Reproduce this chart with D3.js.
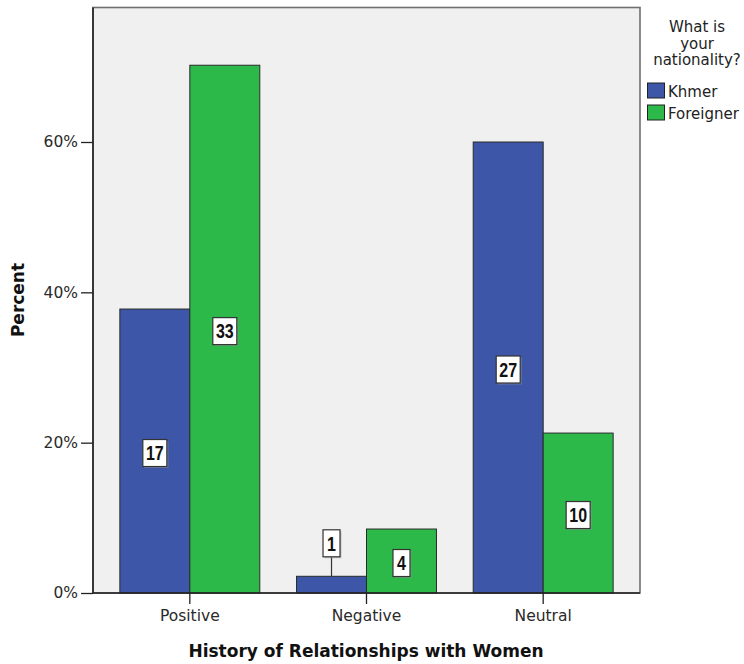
<!DOCTYPE html>
<html>
<head>
<meta charset="utf-8">
<script src="https://cdn.jsdelivr.net/npm/d3@7"></script>
<style>
  body { margin: 0; background: #fff; }
  svg { display: block; }
</style>
</head>
<body>
<svg id="chart" width="744" height="664"></svg>
<script>
const categories = ["Positive", "Negative", "Neutral"];
const seriesNames = ["Khmer", "Foreigner"];
const khmerCounts = [17, 1, 27];
const foreignerCounts = [33, 4, 10];
const yTicks = [0, 0.2, 0.4, 0.6];
const xTitle = "History of Relationships with Women";
const yTitle = "Percent";
const legendTitle = ["What is", "your", "nationality?"];
const colors = ["#3e56a8", "#2db84a"];

const counts = [khmerCounts, foreignerCounts];
const totals = counts.map(c => d3.sum(c));
const data = [];
categories.forEach((cat, i) => {
  seriesNames.forEach((s, j) => {
    data.push({cat, series: s, si: j, count: counts[j][i], pct: counts[j][i] / totals[j]});
  });
});

const svg = d3.select("#chart");
const L = 93, R = 640, T = 7.5, B = 593;

const x0 = d3.scaleBand().domain(categories).range([L, R]).paddingInner(0.208).paddingOuter(0.152);
const x1 = d3.scaleBand().domain(seriesNames).range([0, x0.bandwidth()]);
const y = d3.scaleLinear().domain([0, (B - T) / (B - 142) * 0.6]).range([B, T]);

// plot background
svg.append("rect").attr("x", L).attr("y", T).attr("width", R - L).attr("height", B - T)
  .attr("fill", "#f0f0f0").attr("stroke", "#6f6f6f").attr("stroke-width", 1.6);

// bars
svg.append("g").selectAll("rect").data(data).join("rect")
  .attr("x", d => x0(d.cat) + x1(d.series))
  .attr("y", d => y(d.pct))
  .attr("width", x1.bandwidth())
  .attr("height", d => y(0) - y(d.pct))
  .attr("fill", d => colors[d.si])
  .attr("stroke", "#2a2a2a").attr("stroke-width", 1);

// axes
const yAxis = svg.append("g").attr("transform", `translate(${L},0)`)
  .call(d3.axisLeft(y).tickValues(yTicks).tickFormat(d3.format(".0%")).tickSize(12).tickPadding(3));
const xAxis = svg.append("g").attr("transform", `translate(0,${B})`)
  .call(d3.axisBottom(x0).tickSize(11).tickPadding(6));
[yAxis, xAxis].forEach(a => {
  a.select(".domain").attr("stroke", "#222").attr("stroke-width", 1.6);
  a.selectAll(".tick line").attr("stroke", "#222").attr("stroke-width", 1.3);
  a.selectAll(".tick text").attr("fill", "#2a2a2a")
    .style("font-family", "'DejaVu Sans', sans-serif").style("font-size", "15.5px");
});
yAxis.select(".domain").attr("d", `M0,${T}V${B}`);
xAxis.select(".domain").attr("d", `M${L},0H${R}`);

// data labels
const lab = svg.append("g");
data.forEach(d => {
  const bx = x0(d.cat) + x1(d.series) + x1.bandwidth() / 2;
  const top = y(d.pct);
  const h = y(0) - top;
  const txt = String(d.count);
  const bw = txt.length === 1 ? 17 : 24;
  const bh = 27;
  let cy;
  if (h < bh + 6) {
    cy = top - 33;
    lab.append("line").attr("x1", bx).attr("x2", bx).attr("y1", cy + bh / 2).attr("y2", top)
      .attr("stroke", "#333").attr("stroke-width", 1.2);
  } else {
    cy = (top + y(0)) / 2 + 2;
  }
  lab.append("rect").attr("x", bx - bw / 2 + 1.5).attr("y", cy - bh / 2 + 1.5).attr("width", bw).attr("height", bh)
    .attr("fill", "#999").attr("opacity", 0.5);
  lab.append("rect").attr("x", bx - bw / 2).attr("y", cy - bh / 2).attr("width", bw).attr("height", bh)
    .attr("fill", "#fff").attr("stroke", "#333").attr("stroke-width", 1.2);
  lab.append("text").attr("transform", `translate(${bx},${cy}) scale(0.8,1)`).attr("dy", "0.36em")
    .attr("text-anchor", "middle")
    .style("font-family", "'Liberation Sans', Arial, sans-serif")
    .style("font-weight", "bold").style("font-size", "20px").attr("fill", "#111")
    .text(txt);
});

// axis titles
svg.append("text").attr("x", 366).attr("y", 657).attr("text-anchor", "middle")
  .style("font-family", "'DejaVu Sans', sans-serif").style("font-weight", "bold").style("font-size", "17px")
  .attr("fill", "#111").text(xTitle);
svg.append("text").attr("transform", "translate(24,300) rotate(-90)").attr("text-anchor", "middle")
  .style("font-family", "'DejaVu Sans', sans-serif").style("font-weight", "bold").style("font-size", "17px")
  .attr("fill", "#111").text(yTitle);

// legend
const lg = svg.append("g");
legendTitle.forEach((t, i) => {
  lg.append("text").attr("x", 697).attr("y", 32 + i * 16.5).attr("text-anchor", "middle")
    .style("font-family", "'DejaVu Sans', sans-serif").style("font-size", "15px").attr("fill", "#222").text(t);
});
seriesNames.forEach((s, i) => {
  const yy = 83 + i * 22;
  lg.append("rect").attr("x", 647.5).attr("y", yy).attr("width", 17).attr("height", 15)
    .attr("fill", colors[i]).attr("stroke", "#222").attr("stroke-width", 1);
  lg.append("text").attr("x", 668).attr("y", yy + 14).style("font-family", "'DejaVu Sans', sans-serif")
    .style("font-size", "15px").attr("fill", "#222").text(s);
});
</script>
</body>
</html>
